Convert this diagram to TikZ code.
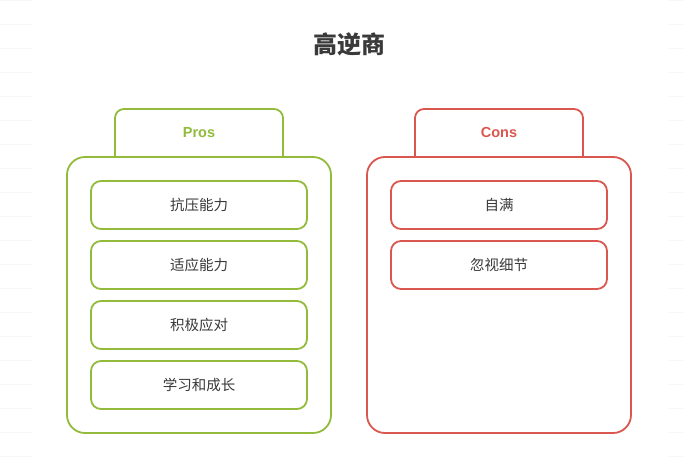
\documentclass[tikz,border=0pt]{standalone}
\usepackage{fontspec}
\setmainfont{Liberation Sans}
\newfontfamily\cjk{Noto Sans CJK SC}
\definecolor{progreen}{HTML}{92BB3C}
\definecolor{conred}{HTML}{D9574F}
\definecolor{txt}{HTML}{3A3A3A}
\definecolor{faint}{HTML}{F7F7F7}
\begin{document}
\begin{tikzpicture}[x=1pt,y=-1pt,
  itembox/.style={draw,line width=1.8pt,rounded corners=10pt,minimum width=216pt,minimum height=48pt,inner sep=0pt,font=\cjk\fontsize{14.5}{16}\selectfont,text=txt},
  panel/.style={draw,line width=1.8pt,rounded corners=18pt,minimum width=264pt,minimum height=276pt,inner sep=0pt},
  tabtext/.style={font=\bfseries\fontsize{14.5}{16}\selectfont},
  bgline/.style={faint,line width=0.8pt}]
\useasboundingbox (0,0) rectangle (684,457);
\fill[white] (0,0) rectangle (684,457);
% faint background lines
\foreach \yy in {0,24,...,456} {
  \draw[bgline] (0,\yy+0.5) -- (32,\yy+0.5);
  \draw[bgline] (668,\yy+0.5) -- (684,\yy+0.5);
}
% title
\node[font=\cjk\bfseries\fontsize{24}{28}\selectfont,text=txt] (title) at (349,44) {高逆商};
% Pros
\draw[progreen,line width=1.8pt,rounded corners=9pt] (115,157) -- (115,109) -- (283,109) -- (283,157);
\node[tabtext,text=progreen] (pros) at (199,133) {Pros};
\node[panel,draw=progreen] (prospanel) at (199,295) {};
\node[itembox,draw=progreen] (p1) at (199,205) {抗压能力};
\node[itembox,draw=progreen] (p2) at (199,265) {适应能力};
\node[itembox,draw=progreen] (p3) at (199,325) {积极应对};
\node[itembox,draw=progreen] (p4) at (199,385) {学习和成长};
% Cons
\draw[conred,line width=1.8pt,rounded corners=9pt] (415,157) -- (415,109) -- (583,109) -- (583,157);
\node[tabtext,text=conred] (cons) at (499,133) {Cons};
\node[panel,draw=conred] (conspanel) at (499,295) {};
\node[itembox,draw=conred] (c1) at (499,205) {自满};
\node[itembox,draw=conred] (c2) at (499,265) {忽视细节};
\end{tikzpicture}
\end{document}
